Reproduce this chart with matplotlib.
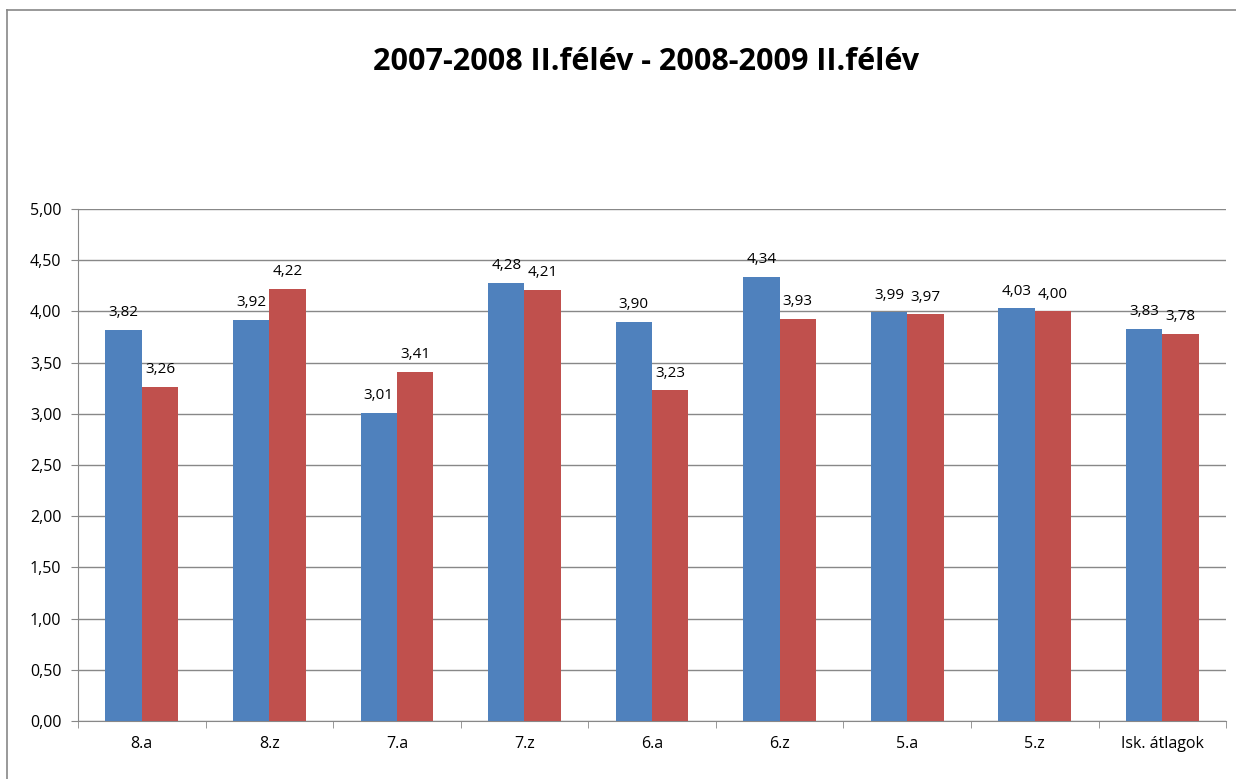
import matplotlib
matplotlib.use("Agg")
import matplotlib.pyplot as plt
from matplotlib.lines import Line2D
import numpy as np

categories = ["8.a", "8.z", "7.a", "7.z", "6.a", "6.z", "5.a", "5.z", "Isk. átlagok"]
felev_2008 = [3.82, 3.92, 3.01, 4.28, 3.90, 4.34, 3.99, 4.03, 3.83]
felev_2009 = [3.26, 4.22, 3.41, 4.21, 3.23, 3.93, 3.97, 4.00, 3.78]

plt.rcParams['font.family'] = ['Open Sans', 'DejaVu Sans']

fig = plt.figure(figsize=(12.36, 7.79), dpi=100)
ax = fig.add_axes([0.0631, 0.0745, 0.9289, 0.6572])

x = np.arange(len(categories))
w = 0.285
bars1 = ax.bar(x - w / 2, felev_2008, w, color="#4F81BD", zorder=3)
bars2 = ax.bar(x + w / 2, felev_2009, w, color="#C0504D", zorder=3)

for bars in (bars1, bars2):
    for b in bars:
        ax.annotate(f"{b.get_height():.2f}".replace(".", ","),
                    (b.get_x() + b.get_width() / 2, b.get_height()),
                    xytext=(0, 7), textcoords="offset points",
                    ha="center", va="bottom", fontsize=11)

ax.set_xlim(-0.5, len(categories) - 0.5)
ax.set_ylim(0, 5)
ax.set_yticks(np.arange(0, 5.01, 0.5))
ax.set_yticklabels([f"{v:.2f}".replace(".", ",") for v in np.arange(0, 5.01, 0.5)])
ax.yaxis.grid(True, color="#888888", linewidth=1, zorder=0)

ax.set_xticks(x)
ax.set_xticklabels(categories)
ax.set_xticks(np.arange(-0.5, len(categories), 1), minor=True)
ax.tick_params(axis="x", which="major", length=0, pad=11, labelsize=11.5)
ax.tick_params(axis="x", which="minor", length=5, color="#888888", direction="out")
ax.tick_params(axis="y", length=5, color="#888888", direction="out", pad=7, labelsize=11.5)

for s in ("top", "right"):
    ax.spines[s].set_visible(False)
for s in ("left", "bottom"):
    ax.spines[s].set_color("#888888")

fig.text(0.523, 0.92, "2007-2008 II.félév - 2008-2009 II.félév",
         ha="center", va="center", fontsize=22, fontweight="bold")

# outer chart frame (partially cut off at right and bottom)
fig.add_artist(Line2D([7 / 1236, 7 / 1236], [0, 1 - 10 / 779],
                      transform=fig.transFigure, color="#888888", linewidth=1.2))
fig.add_artist(Line2D([7 / 1236, 1], [1 - 10 / 779, 1 - 10 / 779],
                      transform=fig.transFigure, color="#888888", linewidth=1.2))

fig.savefig("out.png", dpi=100)
